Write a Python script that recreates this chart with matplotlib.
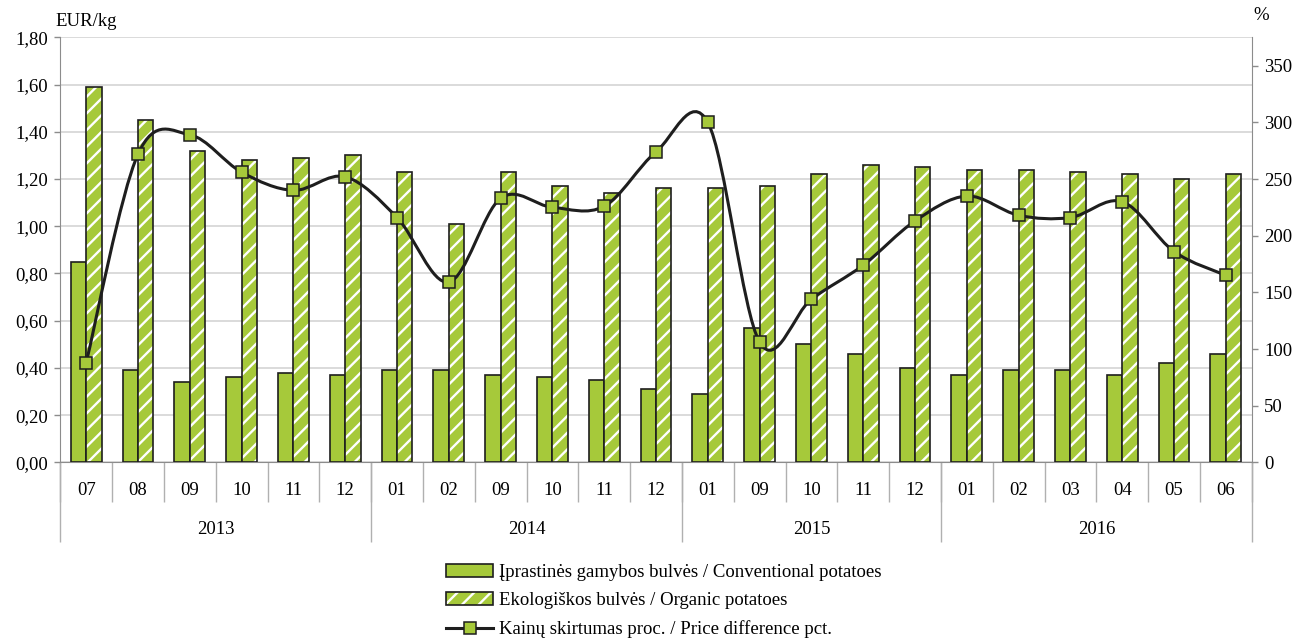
import matplotlib
matplotlib.use("Agg")
import matplotlib.pyplot as plt
from matplotlib.patches import Patch, PathPatch
from matplotlib.lines import Line2D
from matplotlib.path import Path
from matplotlib.legend_handler import HandlerTuple

plt.rcParams['font.family'] = ['Liberation Serif', 'DejaVu Serif']
plt.rcParams['hatch.linewidth'] = 1.7

months = ['07', '08', '09', '10', '11', '12',
          '01', '02', '09', '10', '11', '12',
          '01', '09', '10', '11', '12',
          '01', '02', '03', '04', '05', '06']
years = ['2013', '2014', '2015', '2016']
year_sizes = [6, 6, 5, 6]

conventional = [0.85, 0.39, 0.34, 0.36, 0.38, 0.37,
                0.39, 0.39, 0.37, 0.36, 0.35, 0.31,
                0.29, 0.57, 0.50, 0.46, 0.40,
                0.37, 0.39, 0.39, 0.37, 0.42, 0.46]
organic = [1.59, 1.45, 1.32, 1.28, 1.29, 1.30,
           1.23, 1.01, 1.23, 1.17, 1.14, 1.16,
           1.16, 1.17, 1.22, 1.26, 1.25,
           1.24, 1.24, 1.23, 1.22, 1.20, 1.22]
diff_pct = [88, 272, 289, 256, 240, 252,
            216, 159, 233, 225, 226, 274,
            300, 106, 144, 174, 213,
            235, 218, 216, 230, 186, 165]

green = '#a6c93a'
dark = '#1e1e1e'
grid_c = '#d4d4d4'
axis_c = '#8c8c8c'
fs = 13.5

fig = plt.figure(figsize=(12.97, 6.39), dpi=100)
ax = fig.add_axes([0.0465, 0.2765, 0.9186, 0.665])
ax2 = ax.twinx()

n = len(months)
x = list(range(n))
w = 0.297
xc = [i - w / 2 for i in x]
xo = [i + w / 2 for i in x]

ax.bar(xc, conventional, w, color=green, edgecolor=dark, linewidth=1.2, zorder=3)
ax.bar(xo, organic, w, color=green, edgecolor='white', linewidth=0, hatch='//', zorder=3)
ax.bar(xo, organic, w, color='none', edgecolor=dark, linewidth=1.2, zorder=4)

ax.set_xlim(-0.5, n - 0.5)
ax.set_ylim(0, 1.80)
ax.set_yticks([i * 0.2 for i in range(10)])
ax.set_yticklabels([f"{i * 0.2:.2f}".replace('.', ',') for i in range(10)])
ax.yaxis.grid(True, color=grid_c, linewidth=1.2, zorder=0)
ax.set_axisbelow(True)

# month ticks as separators, labels at centres
ax.set_xticks([i - 0.5 for i in range(n + 1)])
ax.set_xticklabels([])
ax.tick_params(axis='x', which='major', length=28.6, width=1, color='#b0b0b0')
ax.set_xticks(x, minor=True)
ax.set_xticklabels(months, minor=True)
ax.tick_params(axis='x', which='minor', length=0, pad=14, labelsize=fs)
ax.tick_params(axis='y', length=4, width=1, color=axis_c, labelsize=fs, pad=5)

# year separators and labels
trans = ax.get_xaxis_transform()
start = 0
bounds = [-0.5]
for yr, sz in zip(years, year_sizes):
    ax.text(start + (sz - 1) / 2, -0.159, yr, transform=trans, ha='center', va='center', fontsize=fs)
    start += sz
    bounds.append(start - 0.5)
ax.vlines(bounds, -0.187, 0, transform=trans, colors='#b0b0b0', linewidth=1, clip_on=False)

ax.spines['top'].set_visible(False)
ax2.spines['top'].set_visible(False)
ax.spines['left'].set_color(axis_c)
ax.spines['bottom'].set_color(axis_c)
ax.spines['right'].set_visible(False)
ax2.spines['left'].set_visible(False)
ax2.spines['bottom'].set_visible(False)
ax2.spines['right'].set_color(axis_c)

ax2.set_ylim(0, 375)
ax2.set_yticks(range(0, 351, 50))
ax2.tick_params(axis='y', length=4, width=1, color=axis_c, labelsize=fs, pad=5)

# smoothed line (Catmull-Rom as cubic Bezier through the data points)
verts = [(x[0], diff_pct[0])]
codes = [Path.MOVETO]
for i in range(n - 1):
    p0 = (x[max(i - 1, 0)], diff_pct[max(i - 1, 0)])
    p1 = (x[i], diff_pct[i])
    p2 = (x[i + 1], diff_pct[i + 1])
    p3 = (x[min(i + 2, n - 1)], diff_pct[min(i + 2, n - 1)])
    c1 = (p1[0] + (p2[0] - p0[0]) / 6, p1[1] + (p2[1] - p0[1]) / 6)
    c2 = (p2[0] - (p3[0] - p1[0]) / 6, p2[1] - (p3[1] - p1[1]) / 6)
    verts += [c1, c2, p2]
    codes += [Path.CURVE4] * 3
ax2.add_patch(PathPatch(Path(verts, codes), facecolor='none', edgecolor=dark, linewidth=2.2, zorder=5))
ax2.plot(x, diff_pct, linestyle='none', marker='s', markersize=8.5, markerfacecolor=green,
         markeredgecolor=dark, markeredgewidth=1.1, zorder=6)

fig.text(0.0424, 0.967, 'EUR/kg', fontsize=fs, ha='left', va='center')
fig.text(0.9725, 0.975, '%', fontsize=fs, ha='center', va='center')

h1 = Patch(facecolor=green, edgecolor=dark, linewidth=1.2)
h2a = Patch(facecolor=green, edgecolor='white', linewidth=0, hatch='//')
h2b = Patch(facecolor='none', edgecolor=dark, linewidth=1.2)
h3 = Line2D([], [], color=dark, linewidth=2.2, marker='s', markersize=8.5,
            markerfacecolor=green, markeredgecolor=dark, markeredgewidth=1.1)
fig.legend([h1, (h2a, h2b), h3],
           ['Įprastinės gamybos bulvės / Conventional potatoes',
            'Ekologiškos bulvės / Organic potatoes',
            'Kainų skirtumas proc. / Price difference pct.'],
           handler_map={tuple: HandlerTuple(ndivide=1)},
           loc='upper left', bbox_to_anchor=(0.344, 0.118), frameon=False,
           fontsize=fs, handlelength=2.5, handleheight=0.7, handletextpad=0.3,
           labelspacing=0.6, borderpad=0, borderaxespad=0)

fig.savefig('out.png', dpi=100)
